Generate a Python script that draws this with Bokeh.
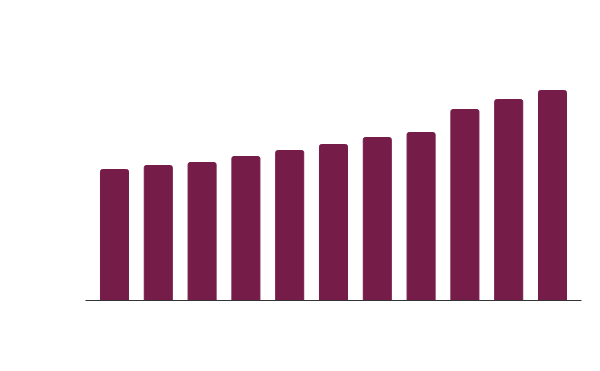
from bokeh.plotting import figure
from bokeh.models import Range1d, ColumnDataSource, FixedTicker
from bokeh.embed import file_html
from bokeh.resources import INLINE

categories = list(range(11))
values = [6.55, 6.75, 6.9, 7.2, 7.5, 7.8, 8.15, 8.4, 9.55, 10.05, 10.5]

src = ColumnDataSource(data=dict(x=categories, top=values))

p = figure(width=592, height=363, output_backend="svg", toolbar_location=None,
           x_range=Range1d(-0.662, 10.662), y_range=Range1d(0, 14),
           min_border_left=85, min_border_right=11, min_border_top=20, min_border_bottom=63)
p.vbar(x="x", top="top", width=0.64, source=src, color="#751C48",
       border_radius=(2, 2, 0, 0))
p.xgrid.visible = False
p.ygrid.visible = False
p.outline_line_color = None
p.yaxis.visible = False
p.xaxis.ticker = FixedTicker(ticks=[])
p.xaxis.major_tick_line_color = None
p.xaxis.minor_tick_line_color = None
p.xaxis.axis_line_color = "#333333"
p.xaxis.axis_line_width = 1
p.background_fill_color = "white"
p.border_fill_color = "white"

open("out.html", "w").write(file_html(p, INLINE))
